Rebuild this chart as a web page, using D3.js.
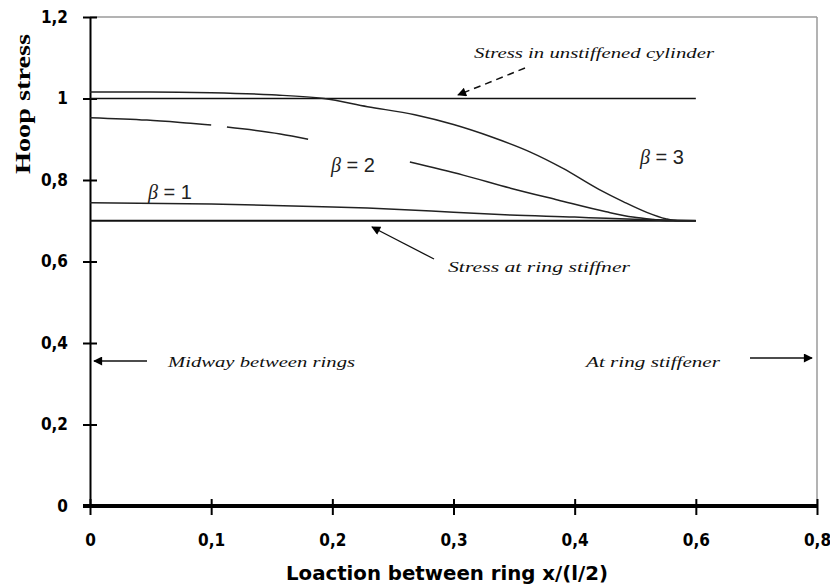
<!DOCTYPE html>
<html>
<head>
<meta charset="utf-8">
<script src="https://cdn.jsdelivr.net/npm/d3@7"></script>
<style>
  html, body { margin: 0; padding: 0; background: #fff; }
  svg { display: block; }
</style>
</head>
<body>
<svg id="chart" width="830" height="587"></svg>
<script>
// ---------- data ----------
const xTickValues = [0, 0.1, 0.2, 0.3, 0.4, 0.5, 0.6];
const xTickLabels = ["0", "0,1", "0,2", "0,3", "0,4", "0,6", "0,8"];
const yTickValues = [0, 0.2, 0.4, 0.6, 0.8, 1.0, 1.2];
const yTickLabels = ["0", "0,2", "0,4", "0,6", "0,8", "1", "1,2"];

// beta = 3 curve
const beta3X = [0, 0.05, 0.1, 0.15, 0.193, 0.229, 0.268, 0.3, 0.331, 0.363, 0.39, 0.42, 0.44, 0.46, 0.475, 0.485, 0.5];
const beta3Y = [1.016, 1.016, 1.014, 1.009, 1.0, 0.980, 0.960, 0.936, 0.906, 0.869, 0.829, 0.777, 0.747, 0.720, 0.705, 0.700, 0.7];
// beta = 2 curve (null = gap in the drawn curve)
const beta2X = [0, 0.047, 0.083, 0.1, 0.106, 0.113, 0.157, 0.18, 0.22, 0.264, 0.308, 0.347, 0.386, 0.426, 0.448, 0.465, 0.476, 0.5];
const beta2Y = [0.953, 0.947, 0.939, 0.935, null, 0.930, 0.913, 0.900, null, 0.844, 0.812, 0.780, 0.751, 0.722, 0.709, 0.703, 0.700, 0.7];
// beta = 1 curve
const beta1X = [0, 0.1, 0.2, 0.229, 0.3, 0.347, 0.4, 0.426, 0.46, 0.5];
const beta1Y = [0.744, 0.741, 0.734, 0.731, 0.721, 0.714, 0.709, 0.706, 0.703, 0.7];
// reference horizontal levels
const unstiffenedX = [0, 0.5];
const unstiffenedY = [1.0, 1.0];
const ringX = [0, 0.5];
const ringY = [0.7, 0.7];

// ---------- layout ----------
const svg = d3.select("#chart");
const x = d3.scaleLinear().domain([0, 0.6]).range([90, 817]);
const y = d3.scaleLinear().domain([0, 1.2]).range([506, 17]);

const tickFont = "'DejaVu Sans Condensed','DejaVu Sans',sans-serif";
const noteFont = "'Liberation Serif','DejaVu Serif',serif";

// arrow marker
const defs = svg.append("defs");
defs.append("marker")
  .attr("id", "arrow")
  .attr("viewBox", "0 0 10 10")
  .attr("refX", 9).attr("refY", 5)
  .attr("markerWidth", 11).attr("markerHeight", 9)
  .attr("markerUnits", "userSpaceOnUse")
  .attr("orient", "auto")
  .append("path").attr("d", "M0,0 L10,5 L0,10 Z").attr("fill", "#000");

// frame (top and right, grey)
svg.append("line").attr("x1", x(0)).attr("x2", x(0.6)).attr("y1", y(1.2)).attr("y2", y(1.2))
  .attr("stroke", "#9a9a9a").attr("stroke-width", 1.5);
svg.append("line").attr("x1", x(0.6)).attr("x2", x(0.6)).attr("y1", y(1.2)).attr("y2", y(0))
  .attr("stroke", "#9a9a9a").attr("stroke-width", 1.5);

// y axis
const yAxis = svg.append("g").attr("transform", `translate(${x(0)},0)`)
  .call(d3.axisLeft(y).tickValues(yTickValues).tickFormat((d, i) => yTickLabels[i])
    .tickSize(7).tickPadding(15).tickSizeOuter(0));
yAxis.select(".domain").attr("stroke", "#000").attr("stroke-width", 2);
yAxis.selectAll(".tick line").attr("x1", 7).attr("x2", -7).attr("stroke", "#000").attr("stroke-width", 2);
yAxis.selectAll(".tick text").attr("font-family", tickFont).attr("font-stretch", "condensed")
  .attr("font-weight", "bold").attr("font-size", 17).attr("fill", "#000");

// x axis
const xAxis = svg.append("g").attr("transform", `translate(0,${y(0)})`)
  .call(d3.axisBottom(x).tickValues(xTickValues).tickFormat((d, i) => xTickLabels[i])
    .tickSize(8).tickPadding(20).tickSizeOuter(0));
xAxis.select(".domain").attr("stroke", "#000").attr("stroke-width", 4)
  .attr("d", `M${x(0) - 7},0H${x(0.6)}`);
xAxis.selectAll(".tick line").attr("y1", -7).attr("y2", 9).attr("stroke", "#000").attr("stroke-width", 2);
xAxis.selectAll(".tick text").attr("font-family", tickFont).attr("font-stretch", "condensed")
  .attr("font-weight", "bold").attr("font-size", 17).attr("fill", "#000");

// axis titles
svg.append("text")
  .attr("transform", `translate(30,104) rotate(-90)`)
  .attr("text-anchor", "middle")
  .attr("font-family", "'Liberation Serif','DejaVu Serif',serif")
  .attr("font-weight", "bold").attr("font-size", 21)
  .attr("textLength", 140).attr("lengthAdjust", "spacingAndGlyphs")
  .text("Hoop stress");
svg.append("text")
  .attr("x", 447).attr("y", 580)
  .attr("text-anchor", "middle")
  .attr("font-family", tickFont).attr("font-stretch", "condensed")
  .attr("font-weight", "bold").attr("font-size", 19)
  .attr("textLength", 322).attr("lengthAdjust", "spacingAndGlyphs")
  .text("Loaction between ring x/(l/2)");

// curves
const line = d3.line().defined(d => d[1] !== null).x(d => x(d[0])).y(d => y(d[1])).curve(d3.curveMonotoneX);
function series(xs, ys) { return xs.map((v, i) => [v, ys[i]]); }

const curveGroup = svg.append("g").attr("fill", "none").attr("stroke-linejoin", "round");
curveGroup.append("path").datum(series(unstiffenedX, unstiffenedY)).attr("d", line)
  .attr("stroke", "#111").attr("stroke-width", 1.6);
curveGroup.append("path").datum(series(ringX, ringY)).attr("d", line)
  .attr("stroke", "#111").attr("stroke-width", 1.8);
curveGroup.append("path").datum(series(beta3X, beta3Y)).attr("d", line)
  .attr("stroke", "#222").attr("stroke-width", 1.5);
curveGroup.append("path").datum(series(beta2X, beta2Y)).attr("d", line)
  .attr("stroke", "#222").attr("stroke-width", 1.5);
curveGroup.append("path").datum(series(beta1X, beta1Y)).attr("d", line)
  .attr("stroke", "#222").attr("stroke-width", 1.5);

// beta labels
function betaLabel(px, py, num) {
  const t = svg.append("text").attr("x", px).attr("y", py)
    .attr("font-family", "'Liberation Sans','DejaVu Sans',sans-serif")
    .attr("font-size", 20).attr("fill", "#222");
  t.append("tspan").attr("font-family", noteFont).attr("font-style", "italic").text("β");
  t.append("tspan").text(" = " + num);
}
betaLabel(148, 199, "1");
betaLabel(331, 172, "2");
betaLabel(640, 164, "3");

// annotations
function note(px, py, str, len) {
  svg.append("text").attr("x", px).attr("y", py)
    .attr("font-family", noteFont).attr("font-style", "italic")
    .attr("font-size", 14).attr("fill", "#111")
    .attr("textLength", len).attr("lengthAdjust", "spacingAndGlyphs")
    .text(str);
}
note(474, 58, "Stress in unstiffened cylinder", 240);
note(448, 272, "Stress at ring stiffner", 182);
note(168, 367, "Midway between rings", 187);
note(586, 367, "At ring stiffener", 134);

// arrows
svg.append("line").attr("x1", 525).attr("y1", 68).attr("x2", 458).attr("y2", 95)
  .attr("stroke", "#111").attr("stroke-width", 1.5).attr("stroke-dasharray", "7,5")
  .attr("marker-end", "url(#arrow)");
svg.append("line").attr("x1", 434).attr("y1", 259).attr("x2", 372).attr("y2", 227)
  .attr("stroke", "#111").attr("stroke-width", 1.3).attr("marker-end", "url(#arrow)");
svg.append("line").attr("x1", 147).attr("y1", 361).attr("x2", 94).attr("y2", 361)
  .attr("stroke", "#111").attr("stroke-width", 1.5).attr("marker-end", "url(#arrow)");
svg.append("line").attr("x1", 750).attr("y1", 358).attr("x2", 812).attr("y2", 358)
  .attr("stroke", "#111").attr("stroke-width", 1.5).attr("marker-end", "url(#arrow)");
</script>
</body>
</html>
